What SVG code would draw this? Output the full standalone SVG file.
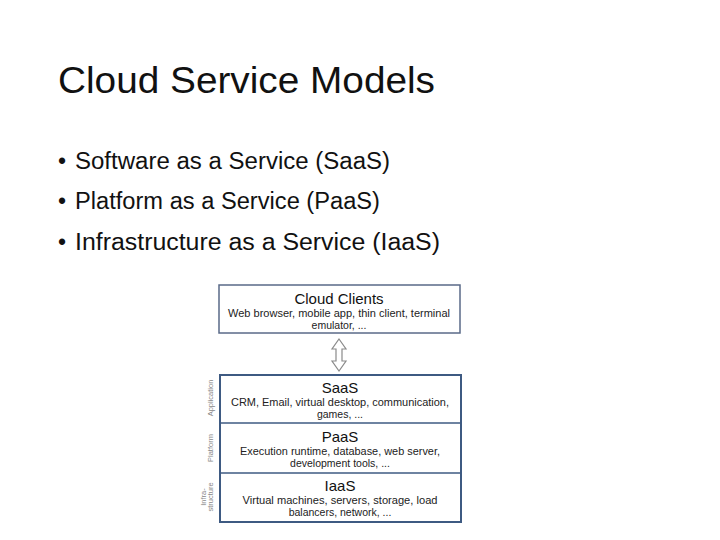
<svg xmlns="http://www.w3.org/2000/svg" width="720" height="540" viewBox="0 0 720 540">
<style>
.t{font-family:"Liberation Sans",Arial,sans-serif;fill:#111}
.h{font-family:"Liberation Sans",Arial,sans-serif;font-size:15px;fill:#111;text-anchor:middle}
.s{font-family:"Liberation Sans",Arial,sans-serif;font-size:10.5px;fill:#222;text-anchor:middle}
.v{font-family:"Liberation Sans",Arial,sans-serif;font-size:7.5px;fill:#888;text-anchor:middle}
.box{fill:#fff;stroke:#5a6a88;stroke-width:1.5}
.stack{fill:#fff;stroke:#3e5a82;stroke-width:2}
</style>
<rect width="720" height="540" fill="#fff"/>
<text class="t" x="58" y="93" font-size="36" textLength="377" lengthAdjust="spacingAndGlyphs">Cloud Service Models</text>
<g id="bullets">
<text class="t" x="58" y="169" font-size="23">•</text>
<text class="t" x="75" y="169" font-size="23" textLength="315" lengthAdjust="spacingAndGlyphs">Software as a Service (SaaS)</text>
<text class="t" x="58" y="209" font-size="23">•</text>
<text class="t" x="75" y="209" font-size="23" textLength="305" lengthAdjust="spacingAndGlyphs">Platform as a Service (PaaS)</text>
<text class="t" x="58" y="250" font-size="23">•</text>
<text class="t" x="75" y="250" font-size="23" textLength="365" lengthAdjust="spacingAndGlyphs">Infrastructure as a Service (IaaS)</text>
</g>
<g id="cloud-clients">
<rect class="box" x="219" y="285" width="241" height="48"/>
<text class="h" x="339" y="304">Cloud Clients</text>
<text class="s" x="339" y="317" textLength="222" lengthAdjust="spacingAndGlyphs">Web browser, mobile app, thin client, terminal</text>
<text class="s" x="339" y="329">emulator, ...</text>
</g>
<g id="connectors">
<path d="M339 339 L346 349 L342 349 L342 361 L346 361 L339 371 L332 361 L336 361 L336 349 L332 349 Z" fill="#fff" stroke="#8a8a8a" stroke-width="1.2"/>
</g>
<g id="stack">
<rect class="stack" x="220" y="375" width="241" height="147"/>
<line x1="220" y1="423" x2="461" y2="423" stroke="#3e5a82" stroke-width="1.5"/>
<line x1="220" y1="473" x2="461" y2="473" stroke="#3e5a82" stroke-width="1.5"/>
</g>
<g id="saas">
<text class="h" x="340" y="393">SaaS</text>
<text class="s" x="340" y="406" textLength="218" lengthAdjust="spacingAndGlyphs">CRM, Email, virtual desktop, communication,</text>
<text class="s" x="340" y="418">games, ...</text>
</g>
<g id="paas">
<text class="h" x="340" y="442">PaaS</text>
<text class="s" x="340" y="455" textLength="200" lengthAdjust="spacingAndGlyphs">Execution runtime, database, web server,</text>
<text class="s" x="340" y="467">development tools, ...</text>
</g>
<g id="iaas">
<text class="h" x="340" y="491">IaaS</text>
<text class="s" x="340" y="504" textLength="195" lengthAdjust="spacingAndGlyphs">Virtual machines, servers, storage, load</text>
<text class="s" x="340" y="516">balancers, network, ...</text>
</g>
<g id="side-labels">
<text class="v" transform="translate(213 398) rotate(-90)">Application</text>
<text class="v" transform="translate(213 448) rotate(-90)">Platform</text>
<text class="v" transform="translate(206 497) rotate(-90)">Infra-</text>
<text class="v" transform="translate(213 497) rotate(-90)">structure</text>
</g>
</svg>
